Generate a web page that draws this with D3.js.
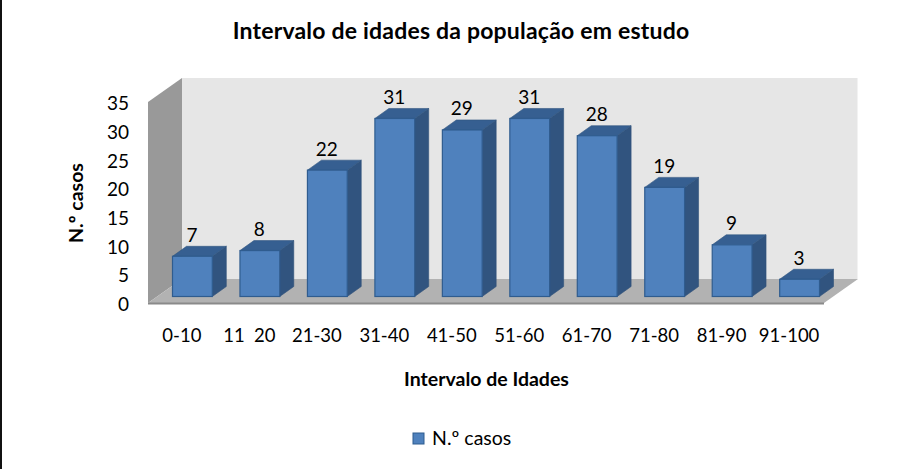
<!DOCTYPE html>
<html><head><meta charset="utf-8">
<script src="https://cdn.jsdelivr.net/npm/d3@7"></script>
<style>html,body{margin:0;padding:0;background:#fff;overflow:hidden}svg{display:block}text{font-family:Lato,"Open Sans",sans-serif;fill:#000;white-space:pre}</style>
</head><body><svg id="c" width="922" height="469"></svg>
<script>
const categories = ["0-10","11  20","21-30","31-40","41-50","51-60","61-70","71-80","81-90","91-100"];
const values = [7,8,22,31,29,31,28,19,9,3];
const yTicks = [0,5,10,15,20,25,30,35];
const titleText = "Intervalo de idades da população em estudo";
const xTitle = "Intervalo de Idades";
const yTitle = "N.º casos";
const seriesName = "N.º casos";

const svg = d3.select("#c");
const dx = 14, dy = -10;
const wall = {l:148, r:824, t:102, b:303, ddx:34, ddy:-24};
const x = d3.scaleBand().domain(categories).range([172.5,819.5]).paddingInner(0.41).paddingOuter(0);
const yBar = d3.scaleLinear().domain([0,35]).range([296.5,95.5]);
const yAxis = d3.scaleLinear().domain([0,35]).range([wall.b,wall.t]);
const poly = p => p.map(a=>a.join(",")).join(" ");

svg.append("rect").attr("x",0).attr("y",0).attr("width",2).attr("height",469).attr("fill","#111");

// walls
svg.append("polygon").attr("fill","#e6e6e6").attr("points",poly([[wall.l+wall.ddx,wall.t+wall.ddy],[wall.r+wall.ddx-.5,wall.t+wall.ddy],[wall.r+wall.ddx-.5,wall.b+wall.ddy],[wall.l+wall.ddx,wall.b+wall.ddy]]));
svg.append("polygon").attr("fill","#999999").attr("points",poly([[wall.l,wall.t],[wall.l+wall.ddx,wall.t+wall.ddy],[wall.l+wall.ddx,wall.b+wall.ddy],[wall.l,wall.b]]));
svg.append("polygon").attr("fill","#b2b2b2").attr("points",poly([[wall.l,wall.b],[wall.l+wall.ddx,wall.b+wall.ddy],[wall.r+wall.ddx,wall.b+wall.ddy],[wall.r,wall.b]]));
svg.append("line").attr("x1",wall.l).attr("x2",wall.r).attr("y1",wall.b+.5).attr("y2",wall.b+.5).attr("stroke","#8a8a8a").attr("stroke-width",2);

// bars
const g = svg.append("g").selectAll("g").data(categories.map((c,i)=>({c,v:values[i]}))).join("g");
g.append("polygon").attr("fill","#31547f").attr("stroke","#2f5079").attr("stroke-width",.6).attr("points",d=>{
  const a=x(d.c)+x.bandwidth(), t=yBar(d.v), b=yBar(0);
  return poly([[a,t],[a+dx,t+dy],[a+dx,b+dy],[a,b]]);});
g.append("polygon").attr("fill","#365f91").attr("stroke","#30557f").attr("stroke-width",.6).attr("points",d=>{
  const l=x(d.c), a=l+x.bandwidth(), t=yBar(d.v);
  return poly([[l,t],[l+dx,t+dy],[a+dx,t+dy],[a,t]]);});
g.append("rect").attr("x",d=>x(d.c)).attr("y",d=>yBar(d.v)).attr("width",x.bandwidth()).attr("height",d=>yBar(0)-yBar(d.v))
 .attr("fill","#4f81bd").attr("stroke","#2f5c8f").attr("stroke-width",1.2);
g.append("text").attr("x",d=>x(d.c)+x.bandwidth()/2-.5).attr("y",d=>yBar(d.v)-14.5).attr("text-anchor","middle").attr("font-size",19).text(d=>d.v);

// axes
const ax = svg.append("g").attr("transform",`translate(135,1.5)`).call(d3.axisLeft(yAxis).tickValues(yTicks).tickSize(0).tickPadding(6));
ax.select(".domain").remove();
ax.selectAll("text").attr("font-size",19).attr("font-family",null);
const bx = svg.append("g").attr("transform",`translate(-10.5,329)`).call(d3.axisBottom(x).tickSize(0).tickPadding(0));
bx.select(".domain").remove();
bx.selectAll("text").attr("font-size",18.5).attr("font-family",null);
ax.attr("font-family",null); bx.attr("font-family",null);

// titles
svg.append("text").attr("x",461).attr("y",39).attr("text-anchor","middle").attr("font-size",23).attr("letter-spacing",0.2).attr("font-weight",700).text(titleText);
svg.append("text").attr("x",486.5).attr("y",386).attr("text-anchor","middle").attr("font-size",19.5).attr("font-weight",700).text(xTitle);
svg.append("text").attr("transform","translate(83,203) rotate(-90)").attr("text-anchor","middle").attr("font-size",19.5).attr("font-weight",700).text(yTitle);

// legend
svg.append("rect").attr("x",413).attr("y",433).attr("width",11).attr("height",11).attr("fill","#4f81bd").attr("stroke","#2f5c8f");
svg.append("text").attr("x",432).attr("y",445).attr("font-size",19.5).text(seriesName);
</script></body></html>
